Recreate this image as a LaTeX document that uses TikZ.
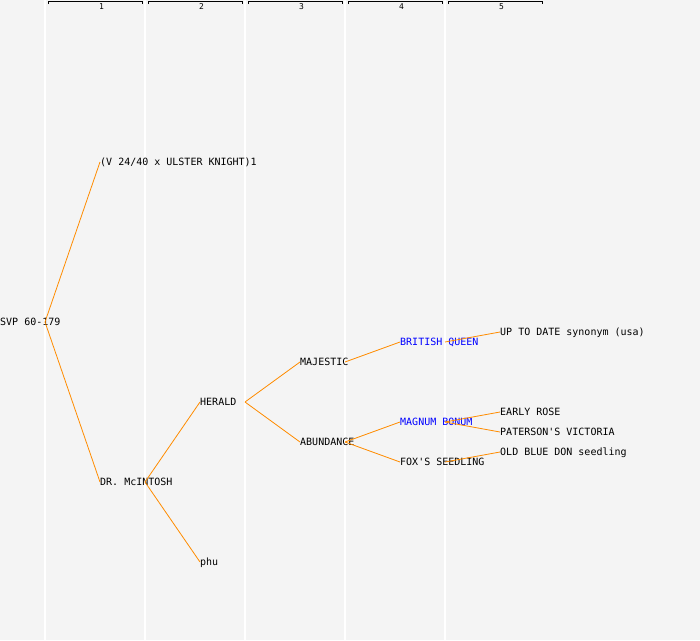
\documentclass[tikz,border=0pt]{standalone}
\usepackage{fontspec}
\newfontfamily\pedfont{DejaVu Sans Mono}
\definecolor{bgcol}{RGB}{244,244,244}
\definecolor{linkcol}{RGB}{255,140,0}
\definecolor{namecol}{RGB}{0,0,255}
\tikzset{
  plant/.style={anchor=west, inner sep=0pt, text height=7.3pt, text depth=0pt,
    font=\pedfont\fontsize{10}{10}\selectfont},
  blueplant/.style={plant, text=namecol},
  link/.style={draw=linkcol, line width=0.8pt},
  colline/.style={draw=white, line width=1.3pt},
  gen/.style={inner sep=0pt, font=\pedfont\fontsize{8}{8}\selectfont},
}

\begin{document}
\begin{tikzpicture}[x=1pt,y=-1pt]
\fill[bgcol] (0,0) rectangle (700,640);
\useasboundingbox (0,0) rectangle (700,640);

% generation columns
\draw[colline] (45,0) -- (45,640);
\draw[colline] (145,0) -- (145,640);
\draw[colline] (245,0) -- (245,640);
\draw[colline] (345,0) -- (345,640);
\draw[colline] (445,0) -- (445,640);

\draw (48.5,4) -- (48.5,1.5) -- (142.5,1.5) -- (142.5,4);
\draw (148.5,4) -- (148.5,1.5) -- (242.5,1.5) -- (242.5,4);
\draw (248.5,4) -- (248.5,1.5) -- (342.5,1.5) -- (342.5,4);
\draw (348.5,4) -- (348.5,1.5) -- (442.5,1.5) -- (442.5,4);
\draw (448.5,4) -- (448.5,1.5) -- (542.5,1.5) -- (542.5,4);
\node[gen] (g1) at (101.5,6.8) {1};
\node[gen] (g2) at (201.5,6.8) {2};
\node[gen] (g3) at (301.5,6.8) {3};
\node[gen] (g4) at (401.5,6.8) {4};
\node[gen] (g5) at (501.5,6.8) {5};

% plants
\node[plant] (svp) at (0,322) {SVP 60-179};
\node[plant] (ulster) at (100,162) {(V 24/40 x ULSTER KNIGHT)1};
\node[plant] (mcintosh) at (100,482) {DR. McINTOSH};
\node[plant] (herald) at (200,402) {HERALD};
\node[plant] (phu) at (200,562) {phu};
\node[plant] (majestic) at (300,362) {MAJESTIC};
\node[plant] (abundance) at (300,442) {ABUNDANCE};
\node[blueplant] (queen) at (400,342) {BRITISH QUEEN};
\node[blueplant] (bonum) at (400,422) {MAGNUM BONUM};
\node[plant] (foxs) at (400,462) {FOX'S SEEDLING};
\node[plant] (uptodate) at (500,332) {UP TO DATE synonym (usa)};
\node[plant] (earlyrose) at (500,412) {EARLY ROSE};
\node[plant] (paterson) at (500,432) {PATERSON'S VICTORIA};
\node[plant] (bluedon) at (500,452) {OLD BLUE DON seedling};

% forks
\coordinate (svp-f) at (45,322);
\coordinate (mcintosh-f) at (145,482);
\coordinate (herald-f) at (245,402);
\coordinate (majestic-f) at (345,362);
\coordinate (abundance-f) at (345,442);
\coordinate (queen-f) at (445,342);
\coordinate (bonum-f) at (445,422);
\coordinate (foxs-f) at (445,462);

\draw[link] (svp-f) -- (ulster.west);
\draw[link] (svp-f) -- (mcintosh.west);
\draw[link] (mcintosh-f) -- (herald.west);
\draw[link] (mcintosh-f) -- (phu.west);
\draw[link] (herald-f) -- (majestic.west);
\draw[link] (herald-f) -- (abundance.west);
\draw[link] (majestic-f) -- (queen.west);
\draw[link] (abundance-f) -- (bonum.west);
\draw[link] (abundance-f) -- (foxs.west);
\draw[link] (queen-f) -- (uptodate.west);
\draw[link] (bonum-f) -- (earlyrose.west);
\draw[link] (bonum-f) -- (paterson.west);
\draw[link] (foxs-f) -- (bluedon.west);

\end{tikzpicture}
\end{document}
